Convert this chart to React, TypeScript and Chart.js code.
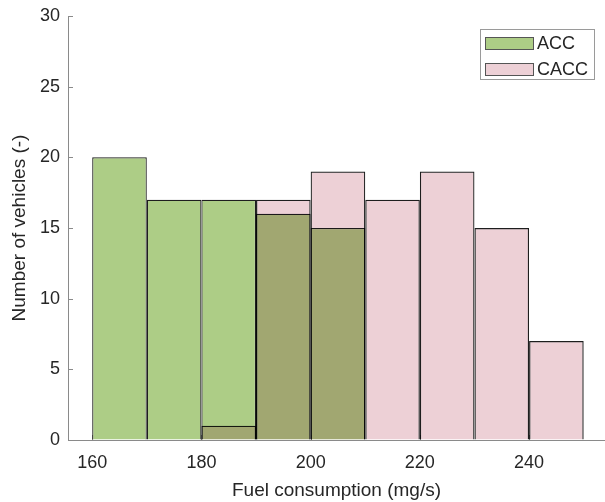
import React, { useEffect, useRef } from "react";
import { Chart, registerables } from "chart.js";

Chart.register(...registerables);

// Histogram bins (left edges, mg/s) and vehicle counts per bin
const binEdges = [160, 170, 180, 190, 200, 210, 220, 230, 240];
const binWidth = 10;
const accCounts = [20, 17, 17, 16, 15, 0, 0, 0, 0];
const caccCounts = [0, 0, 1, 17, 19, 17, 19, 15, 7];

const seriesLabels = ["ACC", "CACC"];
const xTickValues = [160, 180, 200, 220, 240];
const yTickValues = [0, 5, 10, 15, 20, 25, 30];

const xMin = 155.57;
const xMax = 253.9;
const yMin = 0;
const yMax = 30;

const FONT = "'Liberation Sans', Arial, Helvetica, sans-serif";
const TEXT = "#262626";
const AXIS = "#8a8a8a";
const EDGE = "#1e1e1e";
const GREEN = "#adcd86";
const PINK = "#edd0d6";

const toBars = (counts: number[]) =>
  binEdges
    .map((e, i) => ({ x: e + binWidth / 2, y: counts[i] }))
    .filter((p) => p.y > 0);

// The second histogram is laid over the first like a translucent patch
const blendPlugin = {
  id: "blend",
  beforeDatasetDraw(chart: any, args: any) {
    if (args.index === 1) {
      chart.ctx.save();
      chart.ctx.globalCompositeOperation = "multiply";
    }
  },
  afterDatasetDraw(chart: any, args: any) {
    if (args.index === 1) chart.ctx.restore();
  },
};

// Inward-facing tick marks
const innerTicks = {
  id: "innerTicks",
  beforeDatasetsDraw(chart: any) {
    const { ctx, chartArea, scales } = chart;
    ctx.save();
    ctx.strokeStyle = AXIS;
    ctx.lineWidth = 1;
    ctx.beginPath();
    for (const v of yTickValues) {
      const y = Math.round(scales.y.getPixelForValue(v)) + 0.5;
      ctx.moveTo(chartArea.left, y);
      ctx.lineTo(chartArea.left + 5, y);
    }
    for (const v of xTickValues) {
      const x = Math.round(scales.x.getPixelForValue(v)) + 0.5;
      ctx.moveTo(x, chartArea.bottom);
      ctx.lineTo(x, chartArea.bottom - 5);
    }
    ctx.stroke();
    ctx.restore();
  },
};

// Boxed legend inside the upper-right corner of the axes
const boxLegend = {
  id: "boxLegend",
  afterDraw(chart: any) {
    const { ctx } = chart;
    const boxX = 480.5;
    const boxY = 29.5;
    const boxW = 114;
    const boxH = 50;
    ctx.save();
    ctx.fillStyle = "#ffffff";
    ctx.fillRect(boxX, boxY, boxW, boxH);
    ctx.strokeStyle = "#9a9a9a";
    ctx.lineWidth = 1;
    ctx.strokeRect(boxX, boxY, boxW, boxH);
    ctx.font = `18px ${FONT}`;
    ctx.textBaseline = "middle";
    ctx.textAlign = "left";
    chart.data.datasets.forEach((ds: any, i: number) => {
      const sy = 37 + i * 26;
      ctx.fillStyle = ds.backgroundColor;
      ctx.fillRect(485, sy, 49, 13);
      ctx.strokeStyle = "#555555";
      ctx.strokeRect(485.5, sy + 0.5, 48, 12);
      ctx.fillStyle = TEXT;
      ctx.fillText(ds.label, 537, sy + 7);
    });
    ctx.restore();
  },
};

export default function App() {
  const canvasRef = useRef<HTMLCanvasElement | null>(null);

  useEffect(() => {
    document.body.style.margin = "0";
    const canvas = canvasRef.current;
    if (!canvas) return;
    const chart = new Chart(canvas, {
      type: "bar",
      data: {
        datasets: [
          {
            label: seriesLabels[0],
            data: toBars(accCounts) as any,
            backgroundColor: GREEN,
            borderColor: EDGE,
            borderWidth: 1.2,
            order: 2,
          },
          {
            label: seriesLabels[1],
            data: toBars(caccCounts) as any,
            backgroundColor: PINK,
            borderColor: EDGE,
            borderWidth: 1.2,
            order: 1,
          },
        ],
      },
      options: {
        animation: false,
        responsive: false,
        maintainAspectRatio: false,
        layout: { autoPadding: false, padding: { top: 16, right: 0, bottom: 0, left: 0 } },
        datasets: {
          bar: {
            grouped: false,
            barPercentage: 1,
            categoryPercentage: 1,
            inflateAmount: 0,
          },
        },
        plugins: {
          legend: { display: false },
          tooltip: { enabled: false },
        },
        scales: {
          x: {
            type: "linear",
            min: xMin,
            max: xMax,
            offset: false,
            afterBuildTicks: (s: any) => {
              s.ticks = xTickValues.map((v) => ({ value: v }));
            },
            afterFit: (s: any) => {
              s.height = 62;
              s.paddingLeft = 0;
              s.paddingRight = 0;
            },
            grid: { display: true, drawOnChartArea: false, drawTicks: false },
            border: { display: true, color: AXIS, width: 1 },
            ticks: {
              color: TEXT,
              font: { family: FONT, size: 18 },
              padding: 12,
              maxRotation: 0,
              autoSkip: false,
            },
            title: {
              display: true,
              text: "Fuel consumption (mg/s)",
              color: TEXT,
              font: { family: FONT, size: 19 },
              padding: { top: 1, bottom: 0 },
            },
          },
          y: {
            type: "linear",
            min: yMin,
            max: yMax,
            afterBuildTicks: (s: any) => {
              s.ticks = yTickValues.map((v) => ({ value: v }));
            },
            afterFit: (s: any) => {
              s.width = 68;
              s.paddingTop = 0;
              s.paddingBottom = 0;
            },
            grid: { display: true, drawOnChartArea: false, drawTicks: false },
            border: { display: true, color: AXIS, width: 1 },
            ticks: {
              color: TEXT,
              font: { family: FONT, size: 18 },
              padding: 8,
            },
            title: {
              display: true,
              text: "Number of vehicles (-)",
              color: TEXT,
              font: { family: FONT, size: 19 },
              padding: { top: 8, bottom: 0 },
            },
          },
        },
      },
      plugins: [blendPlugin, innerTicks, boxLegend],
    });
    return () => chart.destroy();
  }, []);

  return (
    <div style={{ width: 605, height: 502 }}>
      <canvas ref={canvasRef} width={605} height={502} style={{ display: "block" }} />
    </div>
  );
}
